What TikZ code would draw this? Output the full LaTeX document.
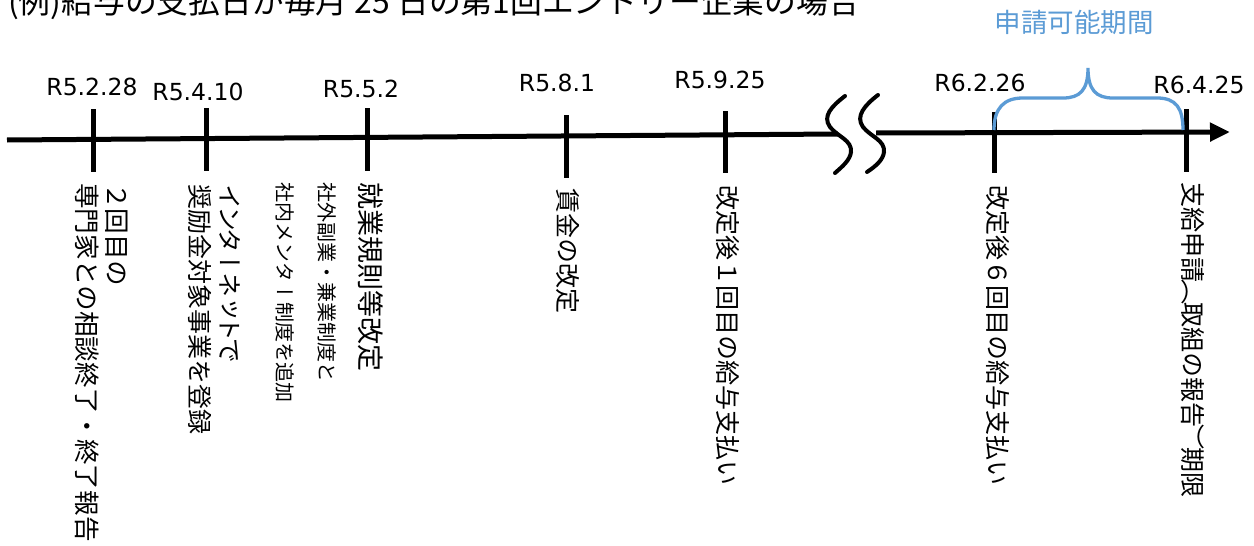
\documentclass[tikz,border=0pt]{standalone}
\usepackage{fontspec}
\setmainfont{Noto Sans CJK JP}
\newfontfamily\jpv[Vertical=RotatedGlyphs]{Noto Sans CJK JP}
\newfontfamily\latf{DejaVu Sans}
\usetikzlibrary{arrows.meta}
\definecolor{braceblue}{HTML}{5B9BD5}
\newcommand\tk{\kern-3pt }
\newcommand\pk{\kern-2.5pt }
\tikzset{
  axisline/.style={line width=5pt},
  tickline/.style={line width=5pt},
  breakline/.style={line width=4pt, line cap=round},
  bracestyle/.style={line width=3.3pt, draw=braceblue},
  datelbl/.style={font=\latf\fontsize{23.5}{27}\selectfont, inner sep=0pt},
  vt/.style={rotate=-90, anchor=north west, align=left, inner sep=0pt},
  vbig/.style={font=\jpv\fontsize{25}{30}\selectfont},
  vhuge/.style={font=\jpv\fontsize{27}{30}\selectfont},
  vsmall/.style={font=\jpv\fontsize{20}{42}\selectfont},
}
\begin{document}
\begin{tikzpicture}[x=1pt,y=-1pt]
\fill[white] (0,0) rectangle (1254,546);
\useasboundingbox (0,0) rectangle (1254,546);

% title
\node[anchor=base west, inner sep=0pt, font=\fontsize{31.8}{36}\selectfont] (title) at (8,13)
  {(例)給与の支払日が毎月 25 日の第1回エントリー企業の場合};

% axis
\coordinate (a0) at (7,140);
\coordinate (b1) at (838,134);
\coordinate (b2) at (876,133);
\coordinate (a1) at (1230,132);
\draw[axisline] (a0) -- (b1);
\draw[axisline, -{Triangle[length=20pt,width=18pt]}] (b2) -- (a1);

% break marks
\draw[breakline] (845,96) .. controls (832,106) and (822,116) .. (830,127)
  .. controls (838,137) and (852,140) .. (851,152) .. controls (850,160) and (843,166) .. (835,173);
\draw[breakline] (878,95) .. controls (865,105) and (855,116) .. (863,127)
  .. controls (871,137) and (885,140) .. (884,152) .. controls (883,160) and (876,166) .. (867,172);

% ticks
\draw[tickline] (93,109) -- (93,172);
\draw[tickline] (206,108) -- (206,171);
\draw[tickline] (367,108) -- (367,171);
\draw[tickline] (566,115) -- (566,178);
\draw[tickline] (725,111) -- (725,173);
\draw[tickline] (994,112) -- (994,173);
\draw[tickline] (1186,109) -- (1186,172);

% date labels
\node[datelbl] (d1) at (92,87) {R5.2.28};
\node[datelbl] (d2) at (198,92) {R5.4.10};
\node[datelbl] (d3) at (361,89) {R5.5.2};
\node[datelbl] (d4) at (557,83) {R5.8.1};
\node[datelbl] (d5) at (720,80) {R5.9.25};
\node[datelbl] (d6) at (980,83) {R6.2.26};
\node[datelbl] (d7) at (1199,85) {R6.4.25};

% application period brace
\draw[bracestyle] (994,130) .. controls (994,108) and (1004,98) .. (1023,98)
  -- (1063,98) .. controls (1080,98) and (1088,90) .. (1088,68)
  .. controls (1088,90) and (1096,98) .. (1113,98)
  -- (1157,98) .. controls (1176,98) and (1183,108) .. (1183,130);
\node[inner sep=0pt, text=braceblue, font=\fontsize{26.5}{30}\selectfont] (period) at (1074,22) {申請可能期間};

% vertical texts
\node[vt, font=\jpv\fontsize{25.6}{30}\selectfont] (v1) at (128,183) {２回目の\\専門家との相談終了・終了報告};
\node[vt, vbig] (v2) at (241,184) {イ\tk ン\tk タ\tk ー\tk ネ\tk ッ\tk ト\tk で\\奨励金対象事業を登録};
\node[vt, vsmall] (v3) at (337,182) {社外副業・兼業制度と\\社内メンター制度を追加};
\node[vt, vhuge] (v4) at (384,182) {就業規則等改定};
\node[vt, vbig] (v5) at (580,188) {賃金の改定};
\node[vt, vbig] (v6) at (740,185) {改定後１回目の給与支払い};
\node[vt, vbig] (v7) at (1010,185) {改定後６回目の給与支払い};
\node[vt, vbig] (v8) at (1205,182) {支給申請\pk （\pk 取組の報告\pk ）\pk 期限};
\end{tikzpicture}
\end{document}
